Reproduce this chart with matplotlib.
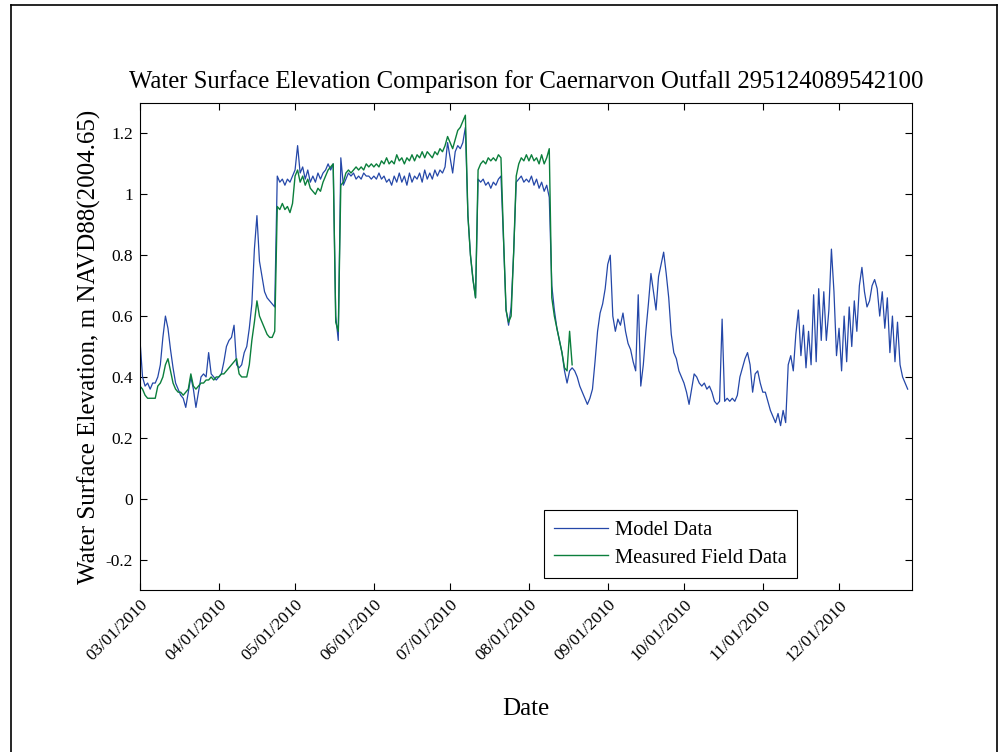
import matplotlib
matplotlib.use("Agg")
import matplotlib.pyplot as plt
from matplotlib.lines import Line2D
import pandas as pd

# Daily water surface elevation (m NAVD88), starting 03/01/2010
model_mar = [0.52, 0.40, 0.37, 0.38, 0.36, 0.38, 0.38, 0.40, 0.44, 0.53,
             0.60, 0.56, 0.49, 0.43, 0.38, 0.36, 0.34, 0.33, 0.30, 0.35,
             0.40, 0.36, 0.30, 0.35, 0.40, 0.41, 0.40, 0.48, 0.41, 0.40, 0.39]
model_apr = [0.40, 0.41, 0.45, 0.50, 0.52, 0.53, 0.57, 0.44, 0.43, 0.44,
             0.48, 0.50, 0.56, 0.64, 0.82, 0.93, 0.78, 0.73, 0.68, 0.66,
             0.65, 0.64, 0.63, 1.06, 1.04, 1.05, 1.03, 1.05, 1.04, 1.06]
model_may = [1.08, 1.16, 1.07, 1.09, 1.05, 1.08, 1.04, 1.06, 1.04, 1.07,
             1.05, 1.07, 1.08, 1.10, 1.08, 1.10, 0.60, 0.52, 1.12, 1.03,
             1.05, 1.07, 1.06, 1.07, 1.05, 1.06, 1.05, 1.07, 1.06, 1.06, 1.05]
model_jun = [1.06, 1.05, 1.07, 1.05, 1.06, 1.04, 1.05, 1.03, 1.06, 1.04,
             1.07, 1.04, 1.06, 1.03, 1.07, 1.04, 1.06, 1.05, 1.07, 1.04,
             1.08, 1.05, 1.07, 1.05, 1.08, 1.06, 1.08, 1.07, 1.09, 1.17]
model_jul = [1.12, 1.07, 1.14, 1.16, 1.15, 1.17, 1.22, 0.93, 0.80, 0.72,
             0.66, 1.05, 1.04, 1.05, 1.03, 1.04, 1.02, 1.04, 1.03, 1.05,
             1.06, 0.85, 0.62, 0.57, 0.63, 0.81, 1.04, 1.05, 1.06, 1.04, 1.05]
model_aug = [1.04, 1.06, 1.03, 1.05, 1.02, 1.04, 1.01, 1.03, 0.99, 0.70,
             0.62, 0.56, 0.52, 0.48, 0.42, 0.38, 0.42, 0.43, 0.42, 0.40,
             0.37, 0.35, 0.33, 0.31, 0.33, 0.36, 0.45, 0.55, 0.61, 0.64, 0.69]
model_sep = [0.77, 0.80, 0.60, 0.55, 0.59, 0.57, 0.61, 0.55, 0.51, 0.49,
             0.45, 0.42, 0.67, 0.37, 0.44, 0.55, 0.64, 0.74, 0.68, 0.62,
             0.73, 0.77, 0.81, 0.74, 0.66, 0.54, 0.48, 0.46, 0.42, 0.40]
model_oct = [0.38, 0.35, 0.31, 0.36, 0.41, 0.40, 0.38, 0.37, 0.38, 0.36,
             0.37, 0.35, 0.32, 0.31, 0.32, 0.59, 0.32, 0.33, 0.32, 0.33,
             0.32, 0.34, 0.40, 0.43, 0.46, 0.48, 0.44, 0.35, 0.41, 0.42, 0.38]
model_nov = [0.35, 0.35, 0.32, 0.29, 0.27, 0.25, 0.28, 0.24, 0.29, 0.25,
             0.44, 0.47, 0.42, 0.54, 0.62, 0.47, 0.57, 0.43, 0.55, 0.44,
             0.67, 0.45, 0.69, 0.52, 0.68, 0.52, 0.62, 0.82, 0.68, 0.47]
model_dec = [0.56, 0.42, 0.60, 0.45, 0.63, 0.50, 0.65, 0.55, 0.70, 0.76,
             0.68, 0.63, 0.65, 0.70, 0.72, 0.69, 0.60, 0.68, 0.56, 0.66,
             0.48, 0.60, 0.45, 0.58, 0.44, 0.40, 0.38, 0.36]

field_mar = [0.37, 0.36, 0.34, 0.33, 0.33, 0.33, 0.33, 0.37, 0.38, 0.40,
             0.44, 0.46, 0.42, 0.38, 0.36, 0.35, 0.35, 0.34, 0.35, 0.36,
             0.41, 0.37, 0.36, 0.37, 0.38, 0.38, 0.39, 0.39, 0.40, 0.39, 0.40]
field_apr = [0.40, 0.41, 0.41, 0.42, 0.43, 0.44, 0.45, 0.46, 0.41, 0.40,
             0.40, 0.40, 0.44, 0.52, 0.58, 0.65, 0.60, 0.58, 0.56, 0.54,
             0.53, 0.53, 0.55, 0.96, 0.95, 0.97, 0.95, 0.96, 0.94, 0.97]
field_may = [1.06, 1.08, 1.04, 1.06, 1.03, 1.05, 1.02, 1.01, 1.00, 1.02,
             1.01, 1.04, 1.06, 1.08, 1.09, 1.10, 0.58, 0.55, 1.03, 1.04,
             1.07, 1.08, 1.07, 1.08, 1.09, 1.08, 1.09, 1.08, 1.10, 1.09, 1.10]
field_jun = [1.09, 1.10, 1.09, 1.11, 1.10, 1.12, 1.10, 1.11, 1.10, 1.13,
             1.11, 1.12, 1.10, 1.12, 1.11, 1.13, 1.11, 1.13, 1.12, 1.14,
             1.12, 1.14, 1.13, 1.12, 1.14, 1.13, 1.15, 1.14, 1.16, 1.19]
field_jul = [1.17, 1.15, 1.18, 1.21, 1.22, 1.24, 1.26, 0.93, 0.80, 0.72,
             0.66, 1.08, 1.10, 1.11, 1.10, 1.12, 1.11, 1.12, 1.11, 1.13,
             1.12, 0.86, 0.62, 0.58, 0.60, 0.81, 1.06, 1.10, 1.12, 1.11, 1.13]
field_aug = [1.11, 1.13, 1.11, 1.12, 1.10, 1.13, 1.10, 1.12, 1.15, 0.66,
             0.60, 0.56, 0.52, 0.48, 0.43, 0.42, 0.55, 0.44]

model_values = (model_mar + model_apr + model_may + model_jun + model_jul
                + model_aug + model_sep + model_oct + model_nov + model_dec)
field_values = (field_mar + field_apr + field_may + field_jun + field_jul
                + field_aug)

start = pd.Timestamp("2010-03-01")
model_dates = pd.date_range(start, periods=len(model_values), freq="D")
field_dates = pd.date_range(start, periods=len(field_values), freq="D")

tick_dates = pd.date_range("2010-03-01", "2010-12-01", freq="MS")
tick_labels = [d.strftime("%m/%d/%Y") for d in tick_dates]
y_ticks = [-0.2, 0, 0.2, 0.4, 0.6, 0.8, 1.0, 1.2]
y_tick_labels = ["-0.2", "0", "0.2", "0.4", "0.6", "0.8", "1", "1.2"]

plt.rcParams["font.family"] = ["Liberation Serif", "DejaVu Serif"]

fig = plt.figure(figsize=(10, 7.52), dpi=100)
ax = fig.add_axes([0.14, 0.2154, 0.772, 0.6476])

ax.plot(model_dates, model_values, color="#2447a8", lw=0.9, label="Model Data")
ax.plot(field_dates, field_values, color="#0b7f3c", lw=1.0,
        label="Measured Field Data")

ax.set_xlim(start, start + pd.Timedelta(days=303.7))
ax.set_ylim(-0.3, 1.3)
ax.set_xticks(tick_dates)
ax.set_xticklabels(tick_labels, rotation=45, ha="right", va="top",
                   rotation_mode="anchor")
ax.set_yticks(y_ticks)
ax.set_yticklabels(y_tick_labels)
ax.tick_params(direction="in", length=5, width=0.8, labelsize=12.5,
               top=True, right=True, pad=5)
for s in ax.spines.values():
    s.set_linewidth(0.8)

ax.set_title("Water Surface Elevation Comparison for Caernarvon Outfall 295124089542100",
             fontsize=17.8, pad=11)
ax.set_ylabel("Water Surface Elevation, m NAVD88(2004.65)", fontsize=18)
ax.yaxis.set_label_coords(-0.0505, 0.5)
ax.set_xlabel("Date", fontsize=18, va="center")
ax.xaxis.set_label_coords(0.5, -0.244)

leg = ax.legend(loc="lower right", bbox_to_anchor=(0.851, 0.025),
                borderaxespad=0, fontsize=14.8, fancybox=False,
                edgecolor="black", framealpha=1, handlelength=2.6,
                handletextpad=0.35, labelspacing=0.4, borderpad=0.5)
leg.get_frame().set_linewidth(0.8)

# outer frame around the figure
for xs, ys in [([0.011, 0.011], [-0.01, 0.9934]),
               ([0.011, 0.997], [0.9934, 0.9934]),
               ([0.997, 0.997], [0.9934, -0.01])]:
    fig.add_artist(Line2D(xs, ys, transform=fig.transFigure, color="black",
                          lw=1.2))

fig.savefig("out.png", dpi=100)
